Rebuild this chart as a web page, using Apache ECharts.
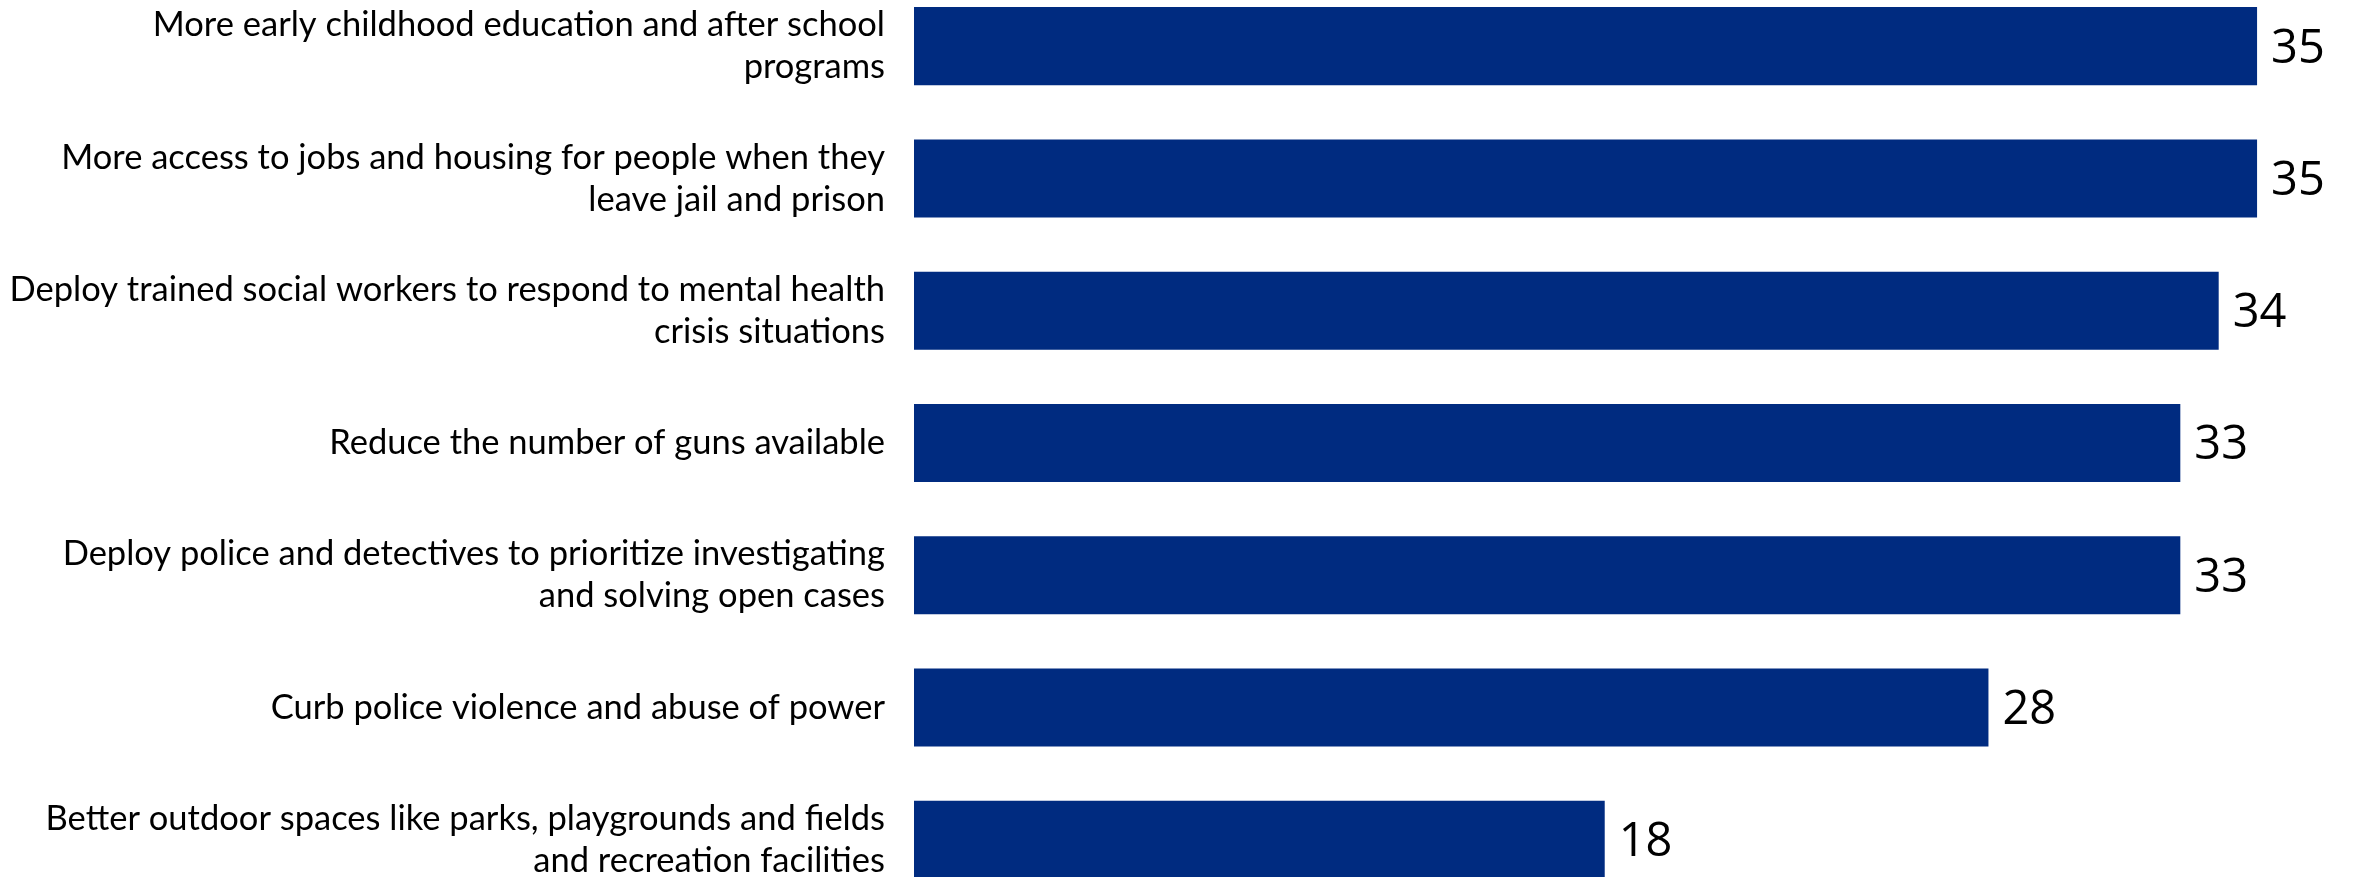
<!DOCTYPE html>
<html>
<head>
<meta charset="utf-8">
<script src="https://cdn.jsdelivr.net/npm/echarts@6/dist/echarts.min.js"></script>
<style>
html,body{margin:0;padding:0;background:#fff;overflow:hidden;}
#chart{position:absolute;left:0;top:-20px;width:2354px;height:926px;}
</style>
</head>
<body>
<div id="chart"></div>
<script>
const categories = [
  "More early childhood education and after school\nprograms",
  "More access to jobs and housing for people when they\nleave jail and prison",
  "Deploy trained social workers to respond to mental health\ncrisis situations",
  "Reduce the number of guns available",
  "Deploy police and detectives to prioritize investigating\nand solving open cases",
  "Curb police violence and abuse of power",
  "Better outdoor spaces like parks, playgrounds and fields\nand recreation facilities"
];
const values = [35, 35, 34, 33, 33, 28, 18];

const chart = echarts.init(document.getElementById('chart'));
chart.setOption({
  animation: false,
  backgroundColor: '#ffffff',
  grid: { left: 914, right: 1, top: 0, bottom: 0, containLabel: false },
  xAxis: {
    type: 'value', min: 0, max: 37.5, show: false
  },
  yAxis: {
    type: 'category', data: categories, inverse: true,
    axisLine: { show: false }, axisTick: { show: false }, splitLine: { show: false },
    axisLabel: {
      margin: 29, color: '#000000', fontFamily: 'Lato', fontSize: 34.5,
      lineHeight: 42, align: 'right'
    }
  },
  series: [{
    type: 'bar', data: values, barCategoryGap: '41%',
    itemStyle: { color: '#002b80' },
    label: {
      show: true, position: 'right', distance: 14, offset: [0, 3], color: '#000000',
      fontFamily: 'Open Sans', fontSize: 47
    }
  }]
});
</script>
</body>
</html>
